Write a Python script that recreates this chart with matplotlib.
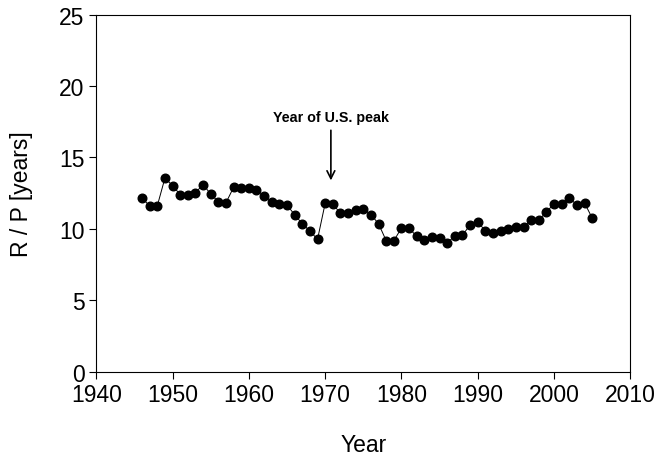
import matplotlib.pyplot as plt

plt.rcParams['font.family'] = ['Liberation Sans', 'DejaVu Sans']

# R/P ratio per year
years = list(range(1946, 2006))
rp = [12.14, 11.62, 11.62, 13.56, 13.03, 12.40, 12.40, 12.54, 13.10, 12.44,
      11.90, 11.83, 12.91, 12.84, 12.84, 12.70, 12.33, 11.90, 11.74, 11.67,
      10.99, 10.36, 9.85, 9.27, 11.79, 11.74, 11.09, 11.11, 11.30, 11.37,
      11.00, 10.36, 9.17, 9.17, 10.06, 10.04, 9.48, 9.22, 9.41, 9.34,
      9.01, 9.52, 9.57, 10.27, 10.50, 9.85, 9.69, 9.85, 9.97, 10.13,
      10.15, 10.62, 10.62, 11.18, 11.76, 11.76, 12.14, 11.69, 11.81, 10.76]

x_ticks = [1940, 1950, 1960, 1970, 1980, 1990, 2000, 2010]
y_ticks = [0, 5, 10, 15, 20, 25]

fig = plt.figure(figsize=(6.59, 4.6), dpi=100)
ax = fig.add_axes([0.1461, 0.1898, 0.9565 - 0.1461, 0.9659 - 0.1898])

ax.plot(years, rp, color='black', lw=0.7, marker='o', markersize=6.2,
        markerfacecolor='black', markeredgecolor='black')

ax.set_xlim(1940, 2010)
ax.set_ylim(0, 25)
ax.set_xticks(x_ticks)
ax.set_yticks(y_ticks)
ax.tick_params(direction='out', length=5, width=0.8, labelsize=16.5, colors='black')
for s in ax.spines.values():
    s.set_linewidth(0.8)

ax.set_xlabel('Year', fontsize=16.5, labelpad=19)
ax.set_ylabel('R / P [years]', fontsize=16.5, labelpad=19)

# annotation for the U.S. peak year
ax.annotate('', xy=(1970.75, 13.2), xytext=(1970.75, 17.1),
            arrowprops=dict(arrowstyle='->', color='black', lw=1.2,
                            mutation_scale=14))
ax.text(1970.8, 17.85, 'Year of U.S. peak', fontsize=10.3, fontweight='bold',
        ha='center', va='center')

fig.savefig('out.png', dpi=100)
